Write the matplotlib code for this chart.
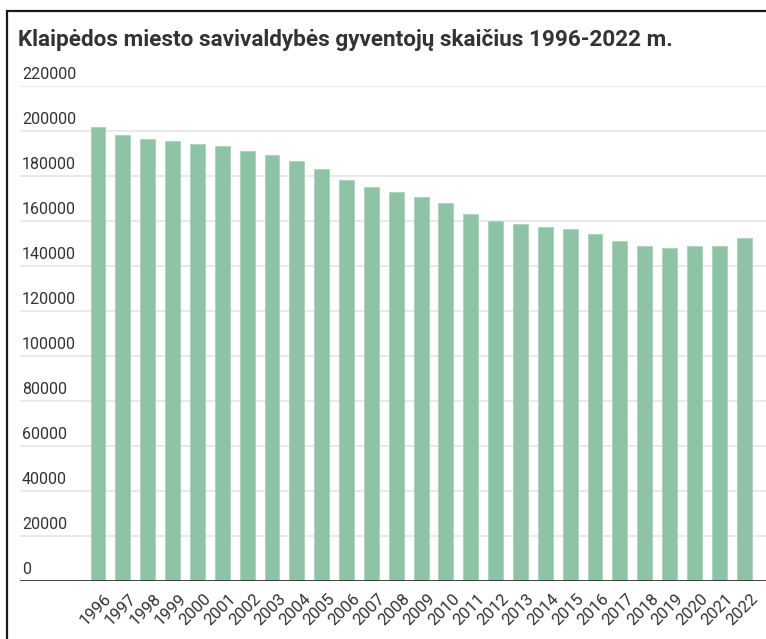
import matplotlib
matplotlib.use("Agg")
import matplotlib.pyplot as plt
from matplotlib.patches import Rectangle
import matplotlib.transforms as mtransforms

years = [str(y) for y in range(1996, 2023)]
population = [201700, 198400, 196600, 195500, 194300, 193300, 191100, 189400,
              186600, 183200, 178300, 175000, 172900, 170600, 167900, 163000,
              160100, 158500, 157300, 156300, 154100, 151200, 149000, 148000,
              149000, 149000, 152400]
yticks = [0, 20000, 40000, 60000, 80000, 100000, 120000, 140000, 160000,
          180000, 200000, 220000]
title = "Klaipėdos miesto savivaldybės gyventojų skaičius 1996-2022 m."

W, H = 766, 639
fig = plt.figure(figsize=(W / 100, H / 100), dpi=100)
fig.patch.set_facecolor("white")

# frame border
fig.patches.append(Rectangle((7 / W, -0.1), 1.2, (H - 11) / H + 0.1,
                             transform=fig.transFigure, fill=False,
                             edgecolor="#1a1a1a", linewidth=1.6))

ax_left = 20 / W
ax_bottom = (H - 581) / H
ax_top = (H - 86) / H
ax = fig.add_axes([ax_left, ax_bottom, 1 - ax_left, ax_top - ax_bottom])

x = list(range(len(years)))
ax.bar(x, population, width=0.6, color="#8ec3a6", edgecolor="#a9d3bb",
       linewidth=0.6, zorder=2)

ax.set_xlim(-3.14, 26.88)
ax.set_ylim(0, 220000)
for s in ax.spines.values():
    s.set_visible(False)
ax.set_yticks([])
ax.set_xticks(x)
ax.set_xticklabels(years, rotation=45, ha="right", va="top",
                   rotation_mode="anchor", fontsize=12, family="Roboto",
                   color="#333333")
ax.tick_params(axis="x", length=0, pad=7)
for lab in ax.get_xticklabels():
    lab.set_transform(lab.get_transform() + mtransforms.ScaledTranslation(6 / 100, 0, fig.dpi_scale_trans))

blend = mtransforms.blended_transform_factory(ax.transAxes, ax.transData)
off = mtransforms.ScaledTranslation(2 / 100, 4 / 100, fig.dpi_scale_trans)
for v in yticks:
    if v > 0:
        ax.axhline(v, color="#e3e3e3", linewidth=1.1, zorder=1)
    ax.text(0.0, v, str(v), transform=blend + off,
            ha="left", va="bottom", fontsize=11.5, family="Roboto", color="#333333")
ax.axhline(0, color="#333333", linewidth=2, zorder=3)

fig.text(18 / W, (H - 40) / H, title, ha="left", va="center",
         fontsize=16.2, fontweight="bold", family="Roboto", color="#333333")

fig.savefig("out.png", dpi=100)
